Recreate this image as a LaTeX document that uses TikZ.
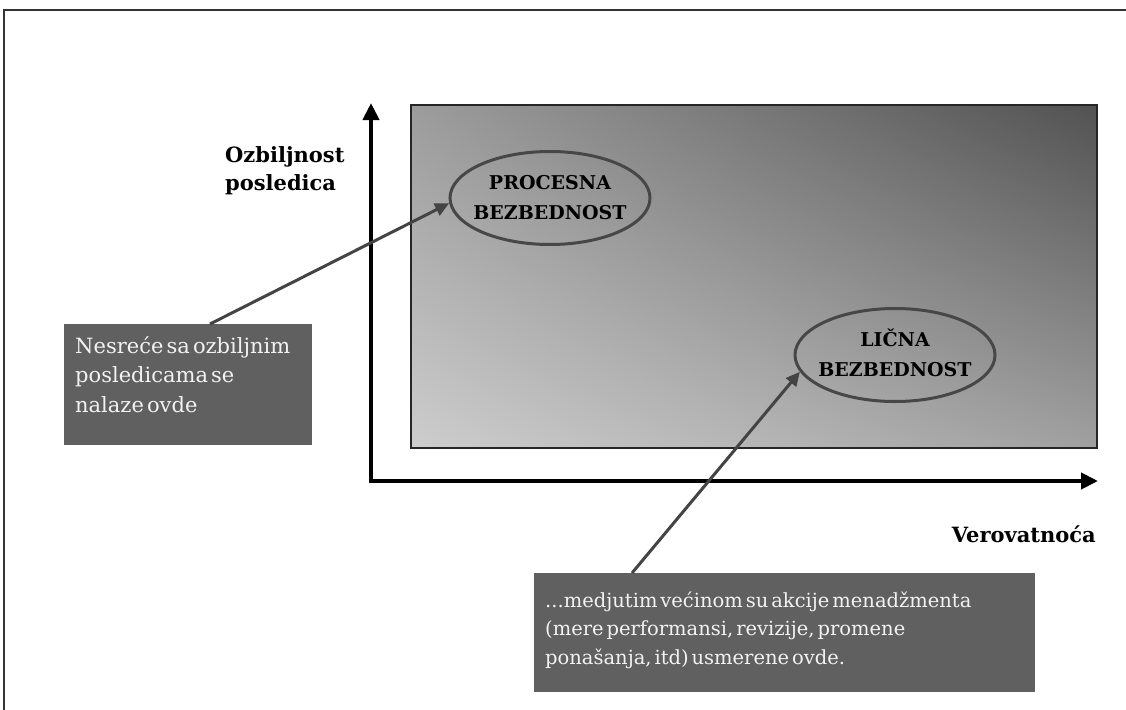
\documentclass[tikz,border=0pt]{standalone}
\usepackage{fontspec}
\setmainfont{DejaVu Serif}
\usetikzlibrary{shapes.geometric,arrows.meta,calc,shadings}
\definecolor{cTL}{HTML}{9C9C9C}
\definecolor{cTR}{HTML}{525252}
\definecolor{cBL}{HTML}{CDCDCD}
\definecolor{cBR}{HTML}{A0A0A0}
\definecolor{noteGray}{HTML}{606060}
\definecolor{noteText}{HTML}{F2F2F2}
\definecolor{linkGray}{HTML}{444444}
\newcommand{\zonetext}[1]{\makebox[100pt]{\begin{tabular}{@{}c@{}}#1\end{tabular}}}
\begin{document}
\begin{tikzpicture}[x=1pt,y=-1pt,
  frame/.style={draw=black!80, line width=2pt},
  axis/.style={line width=4pt, line join=miter, {Triangle[length=17pt,width=16pt]}-{Triangle[length=17pt,width=16pt]}},
  link/.style={draw=linkGray, line width=3pt, -{Triangle[length=14pt,width=13pt]}},
  zone/.style={ellipse, draw=black!72, line width=3pt, minimum width=200pt, minimum height=93pt, inner sep=0pt, font=\bfseries\fontsize{19}{30}\selectfont},
  note/.style={fill=noteGray, inner xsep=11pt, inner ysep=0pt, anchor=north west, text=noteText},
  axlabel/.style={font=\bfseries\fontsize{21}{28}\selectfont, align=left, inner sep=0pt}
]
\useasboundingbox (0,0) rectangle (1126,709);
\fill[white] (0,0) rectangle (1126,709);
\draw[frame] (4,715) -- (4,10) -- (1132,10);

% graded field
\shade[upper left=cTL, upper right=cTR, lower left=cBL, lower right=cBR] (411,105) rectangle (1097,448);
\draw[line width=2.5pt, black!85] (411,105) rectangle (1097,448);

% axes
\coordinate (ytip) at (371,103);
\coordinate (origin) at (371,481);
\coordinate (xtip) at (1098,481);
\draw[axis] (ytip) -- (origin) -- (xtip);

% axis labels
\node[axlabel, anchor=north west] (ylab) at (225,146) {Ozbiljnost\\posledica};
\node[axlabel, anchor=base east] (xlab) at (1096,542) {Verovatnoća};

% zones
\node[zone] (proc) at (550,198) {\zonetext{PROCESNA\\BEZBEDNOST}};
\node[zone] (lic) at (895,355) {\zonetext{LIČNA\\BEZBEDNOST}};

% notes
\node[note] (nes) at (64,324) {\parbox[t][121pt][t]{226pt}{\fontsize{21}{29.5}\selectfont\spaceskip=0.15em plus 0.05em\raggedright\vspace*{12.5pt}Nesreće sa ozbiljnim\\posledicama se\\nalaze ovde}};
\node[note] (mgmt) at (534,573) {\parbox[t][119pt][t]{479pt}{\fontsize{19.5}{28.5}\selectfont\spaceskip=0.15em plus 0.05em\raggedright\vspace*{18.5pt}...medjutim većinom su akcije menadžmenta\\(mere performansi, revizije, promene\\ponašanja, itd) usmerene ovde.}};

% connectors
\coordinate (a1) at ($(nes.north west)+(146,0)$);
\coordinate (a2) at ($(mgmt.north west)+(98,0)$);
\draw[link] (a1) -- (proc.183);
\draw[link] (a2) -- (lic.190);
\end{tikzpicture}
\end{document}
